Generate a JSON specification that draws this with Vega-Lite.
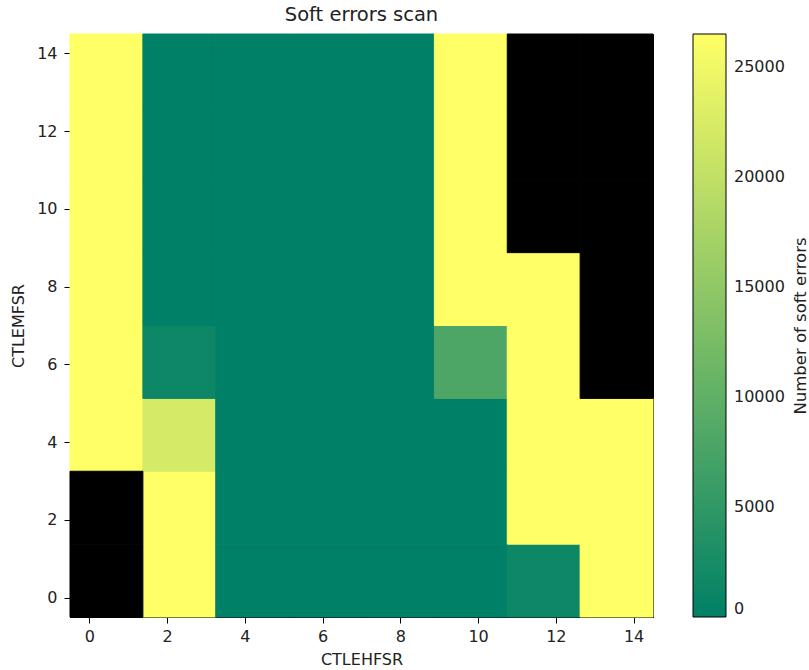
{
  "$schema": "https://vega.github.io/schema/vega-lite/v6.json",
  "width": 583,
  "height": 583,
  "autosize": {"type": "none"},
  "padding": {"left": 70, "top": 34, "right": 156, "bottom": 53},
  "title": {"text": "Soft errors scan", "fontSize": 19.5, "fontWeight": "normal", "font": "DejaVu Sans", "color": "#222", "anchor": "middle", "offset": 8},
  "config": {
    "font": "DejaVu Sans",
    "view": {"stroke": "black", "strokeWidth": 1},
    "axis": {"grid": false, "domainColor": "black", "tickColor": "black", "tickSize": 6, "labelFontSize": 16, "labelColor": "#222", "titleFontSize": 16, "titleFontWeight": "normal", "titleColor": "#222", "labelPadding": 5}
  },
  "data": {"values": [
    {"CTLEHFSR": 0, "CTLEMFSR": 0, "errors": null},
    {"CTLEHFSR": 0, "CTLEMFSR": 2, "errors": null},
    {"CTLEHFSR": 0, "CTLEMFSR": 4, "errors": 26500},
    {"CTLEHFSR": 0, "CTLEMFSR": 6, "errors": 26500},
    {"CTLEHFSR": 0, "CTLEMFSR": 8, "errors": 26500},
    {"CTLEHFSR": 0, "CTLEMFSR": 10, "errors": 26500},
    {"CTLEHFSR": 0, "CTLEMFSR": 12, "errors": 26500},
    {"CTLEHFSR": 0, "CTLEMFSR": 14, "errors": 26500},
    {"CTLEHFSR": 2, "CTLEMFSR": 0, "errors": 26500},
    {"CTLEHFSR": 2, "CTLEMFSR": 2, "errors": 26500},
    {"CTLEHFSR": 2, "CTLEMFSR": 4, "errors": 22100},
    {"CTLEHFSR": 2, "CTLEMFSR": 6, "errors": 1400},
    {"CTLEHFSR": 2, "CTLEMFSR": 8, "errors": 0},
    {"CTLEHFSR": 2, "CTLEMFSR": 10, "errors": 0},
    {"CTLEHFSR": 2, "CTLEMFSR": 12, "errors": 0},
    {"CTLEHFSR": 2, "CTLEMFSR": 14, "errors": 0},
    {"CTLEHFSR": 4, "CTLEMFSR": 0, "errors": 0},
    {"CTLEHFSR": 4, "CTLEMFSR": 2, "errors": 0},
    {"CTLEHFSR": 4, "CTLEMFSR": 4, "errors": 0},
    {"CTLEHFSR": 4, "CTLEMFSR": 6, "errors": 0},
    {"CTLEHFSR": 4, "CTLEMFSR": 8, "errors": 0},
    {"CTLEHFSR": 4, "CTLEMFSR": 10, "errors": 0},
    {"CTLEHFSR": 4, "CTLEMFSR": 12, "errors": 0},
    {"CTLEHFSR": 4, "CTLEMFSR": 14, "errors": 0},
    {"CTLEHFSR": 6, "CTLEMFSR": 0, "errors": 0},
    {"CTLEHFSR": 6, "CTLEMFSR": 2, "errors": 0},
    {"CTLEHFSR": 6, "CTLEMFSR": 4, "errors": 0},
    {"CTLEHFSR": 6, "CTLEMFSR": 6, "errors": 0},
    {"CTLEHFSR": 6, "CTLEMFSR": 8, "errors": 0},
    {"CTLEHFSR": 6, "CTLEMFSR": 10, "errors": 0},
    {"CTLEHFSR": 6, "CTLEMFSR": 12, "errors": 0},
    {"CTLEHFSR": 6, "CTLEMFSR": 14, "errors": 0},
    {"CTLEHFSR": 8, "CTLEMFSR": 0, "errors": 0},
    {"CTLEHFSR": 8, "CTLEMFSR": 2, "errors": 0},
    {"CTLEHFSR": 8, "CTLEMFSR": 4, "errors": 0},
    {"CTLEHFSR": 8, "CTLEMFSR": 6, "errors": 0},
    {"CTLEHFSR": 8, "CTLEMFSR": 8, "errors": 0},
    {"CTLEHFSR": 8, "CTLEMFSR": 10, "errors": 0},
    {"CTLEHFSR": 8, "CTLEMFSR": 12, "errors": 0},
    {"CTLEHFSR": 8, "CTLEMFSR": 14, "errors": 0},
    {"CTLEHFSR": 10, "CTLEMFSR": 0, "errors": 0},
    {"CTLEHFSR": 10, "CTLEMFSR": 2, "errors": 0},
    {"CTLEHFSR": 10, "CTLEMFSR": 4, "errors": 0},
    {"CTLEHFSR": 10, "CTLEMFSR": 6, "errors": 8000},
    {"CTLEHFSR": 10, "CTLEMFSR": 8, "errors": 26500},
    {"CTLEHFSR": 10, "CTLEMFSR": 10, "errors": 26500},
    {"CTLEHFSR": 10, "CTLEMFSR": 12, "errors": 26500},
    {"CTLEHFSR": 10, "CTLEMFSR": 14, "errors": 26500},
    {"CTLEHFSR": 12, "CTLEMFSR": 0, "errors": 1500},
    {"CTLEHFSR": 12, "CTLEMFSR": 2, "errors": 26500},
    {"CTLEHFSR": 12, "CTLEMFSR": 4, "errors": 26500},
    {"CTLEHFSR": 12, "CTLEMFSR": 6, "errors": 26500},
    {"CTLEHFSR": 12, "CTLEMFSR": 8, "errors": 26500},
    {"CTLEHFSR": 12, "CTLEMFSR": 10, "errors": null},
    {"CTLEHFSR": 12, "CTLEMFSR": 12, "errors": null},
    {"CTLEHFSR": 12, "CTLEMFSR": 14, "errors": null},
    {"CTLEHFSR": 14, "CTLEMFSR": 0, "errors": 26500},
    {"CTLEHFSR": 14, "CTLEMFSR": 2, "errors": 26500},
    {"CTLEHFSR": 14, "CTLEMFSR": 4, "errors": 26500},
    {"CTLEHFSR": 14, "CTLEMFSR": 6, "errors": null},
    {"CTLEHFSR": 14, "CTLEMFSR": 8, "errors": null},
    {"CTLEHFSR": 14, "CTLEMFSR": 10, "errors": null},
    {"CTLEHFSR": 14, "CTLEMFSR": 12, "errors": null},
    {"CTLEHFSR": 14, "CTLEMFSR": 14, "errors": null}
  ]},
  "transform": [
    {"calculate": "-0.5 + datum.CTLEHFSR * 15 / 16", "as": "x_lo"},
    {"calculate": "-0.5 + (datum.CTLEHFSR + 2) * 15 / 16", "as": "x_hi"},
    {"calculate": "-0.5 + datum.CTLEMFSR * 15 / 16", "as": "y_lo"},
    {"calculate": "-0.5 + (datum.CTLEMFSR + 2) * 15 / 16", "as": "y_hi"}
  ],
  "encoding": {
    "x": {"field": "x_lo", "type": "quantitative", "scale": {"domain": [-0.5, 14.5], "nice": false, "zero": false}, "axis": {"title": "CTLEHFSR", "values": [0, 2, 4, 6, 8, 10, 12, 14], "titlePadding": 7}},
    "x2": {"field": "x_hi"}
  },
  "layer": [
    {
      "transform": [{"filter": "datum.errors !== null"}],
      "mark": {"type": "rect", "strokeWidth": 1, "stroke": {"expr": "scale('color', datum.errors)"}},
      "encoding": {
        "y": {"field": "y_lo", "type": "quantitative", "scale": {"domain": [-0.5, 14.5], "nice": false, "zero": false}, "axis": {"orient": "left", "title": "CTLEMFSR", "values": [0, 2, 4, 6, 8, 10, 12, 14], "titlePadding": 10, "labelPadding": 7}},
        "y2": {"field": "y_hi"},
        "color": {"field": "errors", "type": "quantitative", "scale": {"domain": [0, 26500], "range": ["#008066", "#ffff66"], "interpolate": "rgb", "nice": false, "zero": false},
          "legend": {"type": "gradient", "title": null, "orient": "none", "legendX": 623, "legendY": 0, "direction": "vertical", "padding": 0, "format": "d", "gradientLength": 583, "gradientThickness": 33, "gradientStrokeColor": "black", "gradientStrokeWidth": 1, "values": [0, 5000, 10000, 15000, 20000, 25000], "labelFontSize": 16, "labelColor": "#222", "labelOffset": 8}}
      }
    },
    {
      "transform": [{"filter": "datum.errors === null"}],
      "mark": {"type": "rect", "color": "black", "stroke": "black", "strokeWidth": 1},
      "encoding": {
        "y": {"field": "y_lo", "type": "quantitative", "scale": {"domain": [-0.5, 14.5], "nice": false, "zero": false}, "axis": {"orient": "right", "title": "Number of soft errors", "labels": false, "ticks": false, "domain": false, "titleAngle": -90, "titlePadding": 155, "titleFontSize": 16.5}},
        "y2": {"field": "y_hi"}
      }
    }
  ],
  "resolve": {"scale": {"y": "independent"}, "axis": {"y": "independent"}}
}
